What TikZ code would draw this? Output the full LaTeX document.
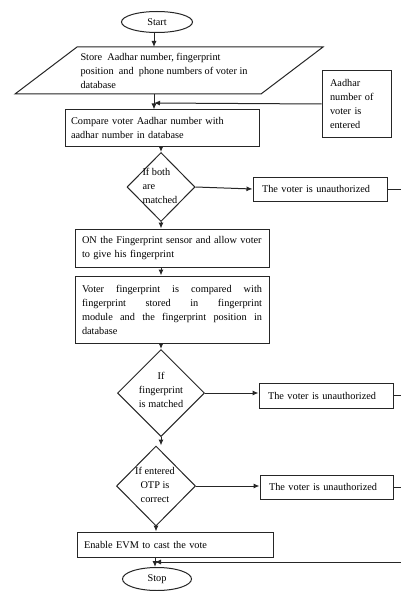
\documentclass[tikz,border=0pt]{standalone}
\usepackage{fontspec}
\setmainfont{Liberation Serif}
\usetikzlibrary{arrows.meta,shapes.geometric}
\begin{document}
\begin{tikzpicture}[x=1pt,y=-1pt,
  line width=1pt,
  every node/.style={font=\fontsize{10.3}{14}\selectfont, text=black},
  ln/.style={draw=black!85, line width=1pt},
  arr/.style={ln, -{Latex[length=6pt,width=5pt]}},
  boxnode/.style={draw=black!85, line width=1pt, rectangle, inner ysep=0pt, align=left},
  terminal/.style={draw=black!85, line width=1pt, ellipse, inner sep=0pt},
  decision/.style={draw=black!85, line width=1pt, diamond, inner sep=0pt},
  dtext/.style={inner sep=0pt, align=center}]
\useasboundingbox (0,0) rectangle (401,591);
\fill[white] (0,0) rectangle (401,591);
% coordinates for the edge of the picture
\coordinate (eR) at (402,0);
% Start
\node[terminal, minimum width=71pt, minimum height=21pt] (start) at (157,22) {Start};
% parallelogram (input)
\coordinate (pTL) at (77,47);
\coordinate (pTR) at (323,47);
\coordinate (pBR) at (261,94);
\coordinate (pBL) at (15,94);
\draw[ln] (pTL) -- (pTR) -- (pBR) -- (pBL) -- cycle;
\coordinate (sT) at (154,47);
\coordinate (sB) at (154,94);
\node[inner sep=0pt, anchor=west, align=left] (store) at (80,70.5)
  {Store\ \ Aadhar number, fingerprint\\position\ \ and\ \ phone numbers of voter in\\database};
% Aadhar entered
\node[boxnode, inner xsep=8pt, text width=53pt, minimum height=66pt] (aad) at (356.5,104)
  {Aadhar\\number of\\voter is\\entered};
% compare box
\node[boxnode, inner xsep=6pt, text width=182pt, minimum height=36pt] (cmp) at (162,128)
  {Compare voter Aadhar number with\\aadhar number in database};
% decision 1
\node[decision, minimum width=68pt, minimum height=69pt] (d1) at (161,187) {};
\node[inner sep=0pt, anchor=west, align=left] (d1t) at (142,186) {If both\\are\\matched};
\node[boxnode, inner xsep=9pt, text width=116pt, minimum height=24pt] (u1) at (320,189)
  {The voter is unauthorized};
% ON box
\node[boxnode, inner xsep=7pt, text width=180pt, minimum height=38pt] (on) at (172,248)
  {ON the Fingerprint sensor and allow voter\\to give his fingerprint};
% voter box
\node[draw=black!85, line width=1pt, rectangle, inner ysep=0pt, inner xsep=7pt, text width=180pt, align=justify, minimum height=67pt] (vf) at (172,309.5)
  {Voter fingerprint is compared with\linebreak fingerprint stored in fingerprint\linebreak module and the fingerprint position in\linebreak database};
% decision 2
\node[decision, minimum width=87pt, minimum height=87pt] (d2) at (161,393) {};
\node[dtext] (d2t) at (161,389.5) {If\\fingerprint\\is matched};
\node[boxnode, inner xsep=9pt, text width=116pt, minimum height=25pt] (u2) at (326,395.5)
  {The voter is unauthorized};
% decision 3
\node[decision, minimum width=79pt, minimum height=80pt] (d3) at (156,486) {};
\node[dtext] (d3t) at (155,485) {If entered\\OTP is\\correct};
\node[boxnode, inner xsep=9pt, text width=115pt, minimum height=24pt] (u3) at (326.5,487)
  {The voter is unauthorized};
% enable
\node[boxnode, inner xsep=7pt, text width=182pt, minimum height=25pt] (en) at (175,544.5)
  {Enable EVM to cast the vote};
% stop
\node[terminal, minimum width=69pt, minimum height=23pt] (stop) at (157,579) {Stop};
% join coordinates
\coordinate (j1) at (154,103);
\coordinate (j2) at (155,562);
\coordinate (e4) at (402,562);
% connectors
\draw[arr] (start.south -| sT) -- (sT);
\draw[arr] (sB) -- (sB |- cmp.north);
\draw[arr] (aad.west) -- (j1);
\draw[arr] (d1.north |- cmp.south) -- (d1.north);
\draw[arr] (d1.east) -- (u1.west);
\draw[ln] (u1.east) -- (u1.east -| eR);
\draw[arr] (d1.south) -- (d1.south |- on.north);
\draw[arr] (d1.south |- on.south) -- (d1.south |- vf.north);
\draw[arr] (d2.north |- vf.south) -- (d2.north);
\draw[arr] (d2.east) -- (d2.east -| u2.west);
\draw[ln] (u2.east) -- (u2.east -| eR);
\draw[arr] (d2.south) -- (d2.south |- d3.north);
\draw[arr] (d3.east) -- (d3.east -| u3.west);
\draw[ln] (u3.east) -- (u3.east -| eR);
\draw[arr] (d3.south) -- (d3.south |- en.north);
\draw[arr] (j2 |- en.south) -- (j2 |- stop.north);
\draw[arr] (e4) -- (j2);
\end{tikzpicture}
\end{document}
